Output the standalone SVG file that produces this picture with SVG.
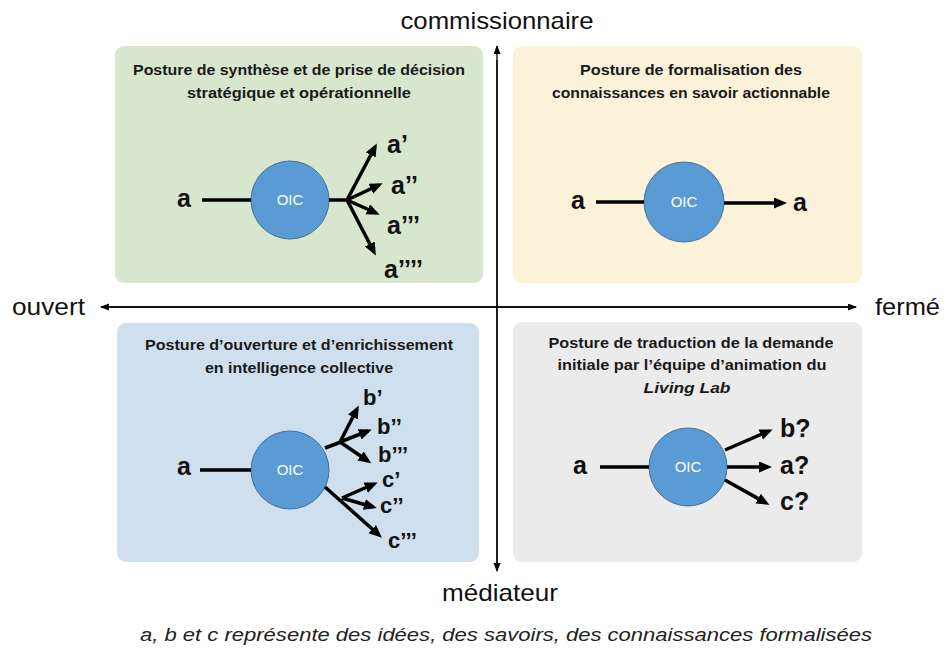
<svg xmlns="http://www.w3.org/2000/svg" width="944" height="650" viewBox="0 0 944 650">
<style>
.title{font-family:"Liberation Sans",Arial,sans-serif;font-weight:bold;font-size:15.5px;fill:#1a1a1a;text-anchor:middle}
.lbl{font-family:"Liberation Sans",Arial,sans-serif;font-weight:bold;font-size:25px;fill:#111}
.sm{font-size:22px}
.oic{font-family:"Liberation Sans",Arial,sans-serif;font-size:15px;fill:#fff;text-anchor:middle}
.axis{font-family:"Liberation Sans",Arial,sans-serif;font-size:24px;fill:#111}
.cap{font-family:"Liberation Sans",Arial,sans-serif;font-style:italic;font-size:19px;fill:#222}
.circ{fill:#5b9bd5;stroke:#41719c;stroke-width:1}
.thick{stroke:#000;stroke-width:3.5;fill:none}
.arr{stroke:#000;stroke-width:3.5;fill:none;marker-end:url(#ah)}
.ax{stroke:#000;stroke-width:1.3;fill:none}
</style>
<defs>
<marker id="ah" markerUnits="userSpaceOnUse" markerWidth="14" markerHeight="12" refX="9" refY="5.5" orient="auto">
<path d="M0,0 L13,5.5 L0,11 z" fill="#000"/>
</marker>
<marker id="axh" markerUnits="userSpaceOnUse" markerWidth="10" markerHeight="8" refX="8" refY="3.5" orient="auto">
<path d="M0,0 L9,3.5 L0,7 z" fill="#000"/>
</marker>
</defs>
<rect width="944" height="650" fill="#fff"/>

<g id="q-green">
<rect x="115" y="46" width="368" height="237" rx="9" fill="#d6e7cd"/>
<text class="title" x="299" y="75" textLength="332" lengthAdjust="spacingAndGlyphs">Posture de synthèse et de prise de décision</text>
<text class="title" x="299" y="98" textLength="224" lengthAdjust="spacingAndGlyphs">stratégique et opérationnelle</text>
</g>
<g id="q-yellow">
<rect x="513" y="46" width="349" height="237" rx="9" fill="#fbf2d9"/>
<text class="title" x="691" y="75" textLength="222" lengthAdjust="spacingAndGlyphs">Posture de formalisation des</text>
<text class="title" x="691" y="98" textLength="278" lengthAdjust="spacingAndGlyphs">connaissances  en savoir actionnable</text>
</g>
<g id="q-blue">
<rect x="117" y="323" width="362" height="239" rx="9" fill="#cfdfee"/>
<text class="title" x="299" y="350" textLength="308" lengthAdjust="spacingAndGlyphs">Posture d’ouverture et d’enrichissement</text>
<text class="title" x="299" y="373" textLength="188" lengthAdjust="spacingAndGlyphs">en intelligence collective</text>
</g>
<g id="q-gray">
<rect x="513" y="322" width="349" height="240" rx="9" fill="#ebebeb"/>
<text class="title" x="691" y="348" textLength="285" lengthAdjust="spacingAndGlyphs">Posture de traduction de la demande</text>
<text class="title" x="692" y="370" textLength="269" lengthAdjust="spacingAndGlyphs">initiale par l’équipe d’animation du</text>
<text class="title" x="687" y="393" font-style="italic" textLength="87" lengthAdjust="spacingAndGlyphs">Living Lab</text>
</g>

<g id="axes">
<line class="ax" x1="497" y1="570" x2="497" y2="46" marker-end="url(#axh)"/>
<line class="ax" x1="497" y1="60" x2="497" y2="571" marker-end="url(#axh)"/>
<line class="ax" x1="855" y1="307" x2="101" y2="307" marker-end="url(#axh)"/>
<line class="ax" x1="110" y1="307" x2="856" y2="307" marker-end="url(#axh)"/>
<text class="axis" x="497" y="29" text-anchor="middle" textLength="193" lengthAdjust="spacingAndGlyphs">commissionnaire</text>
<text class="axis" x="500" y="601" text-anchor="middle" textLength="116" lengthAdjust="spacingAndGlyphs">médiateur</text>
<text class="axis" x="12" y="315" textLength="73" lengthAdjust="spacingAndGlyphs">ouvert</text>
<text class="axis" x="875" y="315" textLength="65" lengthAdjust="spacingAndGlyphs">fermé</text>
</g>

<g id="oic-green">
<circle class="circ" cx="290" cy="200" r="39"/>
<text class="oic" x="290" y="205">OIC</text>
</g>
<g id="oic-yellow">
<circle class="circ" cx="684" cy="202" r="40"/>
<text class="oic" x="684" y="207">OIC</text>
</g>
<g id="oic-blue">
<circle class="circ" cx="290" cy="470" r="39"/>
<text class="oic" x="290" y="475">OIC</text>
</g>
<g id="oic-gray">
<circle class="circ" cx="688" cy="467" r="39"/>
<text class="oic" x="688" y="472">OIC</text>
</g>

<g id="labels">
<text class="lbl" x="177" y="207">a</text>
<text class="lbl" x="387" y="153">a’</text>
<text class="lbl" x="391" y="194">a’’</text>
<text class="lbl" x="387" y="234">a’’’</text>
<text class="lbl" x="384" y="278">a’’’’</text>
<text class="lbl" x="571" y="209">a</text>
<text class="lbl" x="793" y="211">a</text>
<text class="lbl" x="177" y="475">a</text>
<text class="lbl sm" x="363" y="405">b’</text>
<text class="lbl sm" x="377" y="434">b’’</text>
<text class="lbl sm" x="378" y="462">b’’’</text>
<text class="lbl sm" x="382" y="487">c’</text>
<text class="lbl sm" x="380" y="513">c’’</text>
<text class="lbl sm" x="388" y="548">c’’’</text>
<text class="lbl" x="573" y="474">a</text>
<text class="lbl" x="780" y="437">b?</text>
<text class="lbl" x="780" y="474">a?</text>
<text class="lbl" x="780" y="510">c?</text>
</g>

<g id="connectors">
<line class="thick" x1="202" y1="200" x2="251" y2="200"/>
<line class="thick" x1="329" y1="200" x2="348" y2="200"/>
<line class="arr" x1="347" y1="200" x2="375" y2="147"/>
<line class="arr" x1="347" y1="200" x2="379" y2="185"/>
<line class="arr" x1="347" y1="200" x2="376" y2="213"/>
<line class="arr" x1="347" y1="200" x2="374" y2="252"/>

<line class="thick" x1="596" y1="202" x2="644" y2="202"/>
<line class="arr" x1="724" y1="203" x2="783" y2="203"/>

<line class="thick" x1="200" y1="470" x2="251" y2="470"/>
<line class="thick" x1="325" y1="448" x2="341" y2="442"/>
<line class="arr" x1="340" y1="442" x2="357" y2="409"/>
<line class="arr" x1="340" y1="442" x2="368" y2="431"/>
<line class="arr" x1="340" y1="442" x2="368" y2="461"/>
<line class="arr" x1="325" y1="487" x2="379" y2="535"/>
<line class="arr" x1="342" y1="498" x2="374" y2="484"/>
<line class="arr" x1="342" y1="498" x2="373" y2="507"/>

<line class="thick" x1="600" y1="467" x2="649" y2="467"/>
<line class="arr" x1="725" y1="450" x2="769" y2="431"/>
<line class="arr" x1="727" y1="467" x2="768" y2="467"/>
<line class="arr" x1="725" y1="480" x2="766" y2="503"/>
</g>

<text class="cap" x="140" y="641" textLength="732" lengthAdjust="spacingAndGlyphs">a, b et c représente des idées, des savoirs, des connaissances formalisées</text>
</svg>
